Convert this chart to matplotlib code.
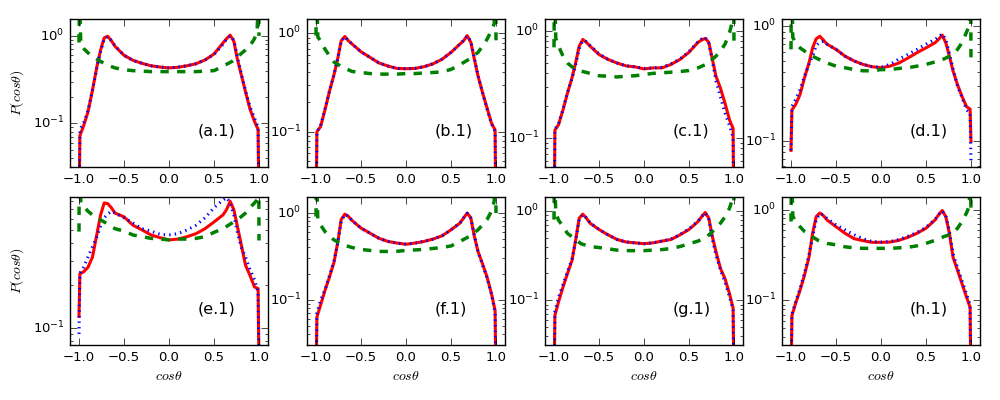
import matplotlib
matplotlib.use("Agg")
import matplotlib.pyplot as plt
from matplotlib.ticker import NullFormatter, FixedLocator

plt.style.use('classic')
plt.rcParams['figure.facecolor'] = 'white'
plt.rcParams['savefig.facecolor'] = 'white'
plt.rcParams['mathtext.fontset'] = 'cm'

# common x grid for the red (solid) and blue (dotted) series
X = [-1.0, -0.99, -0.95, -0.9, -0.85, -0.8, -0.76, -0.72, -0.68, -0.64, -0.6, -0.5, -0.4, -0.3,
     -0.2, -0.1, 0.0, 0.1, 0.2, 0.3, 0.4, 0.5, 0.6, 0.64, 0.68, 0.72, 0.76, 0.8, 0.85, 0.9,
     0.95, 0.99, 1.0]
# x grid for the green (dashed) series
XG = [-1.0, -0.995, -0.98, -0.95, -0.9, -0.85, -0.8, -0.7, -0.6, -0.5, -0.4, -0.3, -0.2, -0.1,
      0.0, 0.1, 0.2, 0.3, 0.4, 0.5, 0.6, 0.7, 0.8, 0.85, 0.9, 0.95, 0.98, 0.995, 1.0]

red_a = [0.01, 0.072, 0.093, 0.135, 0.24, 0.45, 0.69, 0.95, 0.99, 0.88, 0.76, 0.60, 0.525, 0.485, 0.455, 0.44, 0.43, 0.437, 0.455, 0.48, 0.53, 0.62, 0.83, 0.93, 1.02, 0.87, 0.54, 0.37, 0.23, 0.145, 0.105, 0.085, 0.01]
blue_a = [0.01, 0.085, 0.10, 0.14, 0.24, 0.44, 0.66, 0.92, 0.98, 0.88, 0.77, 0.60, 0.525, 0.485, 0.455, 0.44, 0.43, 0.44, 0.455, 0.48, 0.53, 0.61, 0.80, 0.92, 1.0, 0.9, 0.58, 0.38, 0.235, 0.155, 0.115, 0.09, 0.01]
green_a = [0.84, 3.0, 0.80, 0.72, 0.64, 0.58, 0.54, 0.47, 0.43, 0.41, 0.40, 0.395, 0.39, 0.39, 0.39, 0.39, 0.39, 0.39, 0.395, 0.40, 0.45, 0.51, 0.625, 0.69, 0.77, 0.93, 1.2, 3.0, 1.0]

red_b = [0.01, 0.1, 0.112, 0.167, 0.258, 0.38, 0.545, 0.84, 0.93, 0.84, 0.78, 0.65, 0.57, 0.50, 0.465, 0.44, 0.437, 0.44, 0.458, 0.49, 0.545, 0.64, 0.78, 0.84, 0.95, 0.81, 0.545, 0.37, 0.25, 0.175, 0.122, 0.104, 0.01]
blue_b = [0.01, 0.1, 0.115, 0.17, 0.26, 0.38, 0.55, 0.83, 0.92, 0.85, 0.78, 0.65, 0.57, 0.50, 0.465, 0.44, 0.437, 0.44, 0.458, 0.49, 0.545, 0.64, 0.78, 0.85, 0.94, 0.84, 0.56, 0.37, 0.25, 0.17, 0.12, 0.1, 0.01]
green_b = [0.95, 3.0, 0.92, 0.84, 0.69, 0.59, 0.51, 0.45, 0.41, 0.40, 0.39, 0.385, 0.385, 0.385, 0.39, 0.39, 0.395, 0.40, 0.405, 0.43, 0.48, 0.545, 0.64, 0.74, 0.87, 1.07, 1.25, 3.0, 0.85]

red_c = [0.01, 0.118, 0.132, 0.182, 0.262, 0.363, 0.50, 0.72, 0.83, 0.78, 0.72, 0.60, 0.54, 0.50, 0.47, 0.46, 0.44, 0.45, 0.45, 0.485, 0.54, 0.63, 0.78, 0.82, 0.85, 0.78, 0.54, 0.376, 0.29, 0.21, 0.147, 0.122, 0.01]
blue_c = [0.01, 0.12, 0.135, 0.185, 0.265, 0.36, 0.48, 0.68, 0.81, 0.79, 0.73, 0.61, 0.54, 0.50, 0.47, 0.46, 0.445, 0.45, 0.455, 0.49, 0.545, 0.64, 0.79, 0.84, 0.87, 0.76, 0.52, 0.34, 0.24, 0.17, 0.13, 0.10, 0.01]
green_c = [0.70, 3.0, 0.85, 0.72, 0.58, 0.50, 0.46, 0.42, 0.40, 0.38, 0.376, 0.37, 0.376, 0.38, 0.39, 0.40, 0.405, 0.41, 0.416, 0.425, 0.45, 0.49, 0.58, 0.65, 0.75, 0.96, 1.2, 3.0, 0.72]

red_d = [0.083, 0.187, 0.207, 0.254, 0.356, 0.48, 0.65, 0.78, 0.82, 0.76, 0.70, 0.63, 0.55, 0.50, 0.466, 0.445, 0.436, 0.45, 0.48, 0.53, 0.59, 0.65, 0.72, 0.77, 0.84, 0.72, 0.55, 0.41, 0.31, 0.245, 0.20, 0.19, 0.10]
blue_d = [0.083, 0.20, 0.23, 0.28, 0.37, 0.47, 0.55, 0.68, 0.73, 0.74, 0.70, 0.63, 0.55, 0.50, 0.466, 0.445, 0.44, 0.466, 0.52, 0.57, 0.63, 0.70, 0.77, 0.81, 0.86, 0.77, 0.58, 0.43, 0.30, 0.24, 0.187, 0.175, 0.064]
green_d = [0.63, 3.0, 0.80, 0.72, 0.65, 0.61, 0.57, 0.52, 0.48, 0.45, 0.436, 0.42, 0.41, 0.41, 0.42, 0.42, 0.43, 0.436, 0.45, 0.466, 0.49, 0.52, 0.57, 0.63, 0.72, 0.89, 1.01, 3.0, 0.50]

red_e = [0.12, 0.243, 0.25, 0.27, 0.32, 0.47, 0.64, 0.78, 0.77, 0.72, 0.66, 0.62, 0.54, 0.50, 0.46, 0.44, 0.424, 0.43, 0.447, 0.47, 0.51, 0.57, 0.64, 0.70, 0.80, 0.70, 0.53, 0.40, 0.28, 0.236, 0.195, 0.19, 0.05]
blue_e = [0.09, 0.245, 0.27, 0.32, 0.38, 0.45, 0.53, 0.61, 0.65, 0.68, 0.66, 0.61, 0.56, 0.51, 0.49, 0.465, 0.46, 0.47, 0.50, 0.54, 0.61, 0.72, 0.82, 0.85, 0.78, 0.64, 0.48, 0.38, 0.32, 0.26, 0.22, 0.18, 0.05]
green_e = [0.486, 3.0, 0.78, 0.74, 0.68, 0.64, 0.61, 0.56, 0.51, 0.49, 0.46, 0.447, 0.435, 0.43, 0.424, 0.43, 0.43, 0.435, 0.447, 0.48, 0.51, 0.56, 0.62, 0.66, 0.72, 0.78, 0.82, 3.0, 0.42]

red_f = [0.01, 0.063, 0.086, 0.128, 0.183, 0.27, 0.45, 0.84, 0.97, 0.915, 0.82, 0.67, 0.585, 0.51, 0.47, 0.45, 0.436, 0.45, 0.47, 0.50, 0.545, 0.64, 0.765, 0.875, 1.0, 0.875, 0.535, 0.36, 0.26, 0.183, 0.117, 0.075, 0.01]
blue_f = [0.01, 0.07, 0.098, 0.13, 0.19, 0.28, 0.44, 0.80, 0.96, 0.92, 0.82, 0.67, 0.585, 0.51, 0.47, 0.45, 0.436, 0.45, 0.47, 0.50, 0.545, 0.64, 0.77, 0.88, 0.99, 0.88, 0.55, 0.36, 0.25, 0.18, 0.115, 0.07, 0.01]
green_f = [0.91, 3.0, 0.85, 0.73, 0.61, 0.535, 0.49, 0.43, 0.40, 0.38, 0.37, 0.36, 0.36, 0.362, 0.37, 0.375, 0.38, 0.39, 0.40, 0.417, 0.47, 0.535, 0.64, 0.73, 0.84, 1.05, 1.37, 3.0, 1.0]

red_g = [0.01, 0.068, 0.096, 0.141, 0.20, 0.28, 0.47, 0.83, 0.92, 0.83, 0.73, 0.62, 0.54, 0.48, 0.45, 0.44, 0.43, 0.44, 0.46, 0.48, 0.54, 0.62, 0.76, 0.86, 0.96, 0.83, 0.515, 0.35, 0.227, 0.175, 0.119, 0.082, 0.01]
blue_g = [0.01, 0.075, 0.109, 0.15, 0.21, 0.29, 0.46, 0.80, 0.91, 0.84, 0.74, 0.62, 0.54, 0.48, 0.45, 0.44, 0.43, 0.44, 0.46, 0.485, 0.545, 0.63, 0.77, 0.87, 0.95, 0.80, 0.48, 0.32, 0.22, 0.16, 0.11, 0.078, 0.01]
green_g = [0.8, 3.0, 0.95, 0.79, 0.67, 0.56, 0.515, 0.43, 0.40, 0.39, 0.377, 0.365, 0.36, 0.36, 0.36, 0.365, 0.37, 0.38, 0.40, 0.43, 0.46, 0.515, 0.64, 0.73, 0.86, 1.07, 1.33, 3.0, 1.1]

red_h = [0.01, 0.068, 0.092, 0.129, 0.19, 0.30, 0.55, 0.84, 0.92, 0.86, 0.77, 0.65, 0.55, 0.48, 0.456, 0.437, 0.437, 0.44, 0.46, 0.497, 0.55, 0.625, 0.77, 0.88, 0.98, 0.84, 0.55, 0.30, 0.215, 0.153, 0.109, 0.084, 0.01]
blue_h = [0.01, 0.07, 0.095, 0.135, 0.20, 0.32, 0.50, 0.78, 0.90, 0.88, 0.80, 0.68, 0.60, 0.53, 0.48, 0.445, 0.44, 0.445, 0.47, 0.51, 0.56, 0.64, 0.78, 0.88, 0.97, 0.86, 0.58, 0.33, 0.23, 0.165, 0.118, 0.09, 0.01]
green_h = [0.74, 3.0, 0.85, 0.74, 0.65, 0.575, 0.53, 0.46, 0.425, 0.41, 0.39, 0.38, 0.375, 0.375, 0.375, 0.375, 0.38, 0.385, 0.40, 0.425, 0.46, 0.505, 0.55, 0.625, 0.74, 0.92, 1.09, 3.0, 0.85]

panel_labels = ['(a.1)', '(b.1)', '(c.1)', '(d.1)', '(e.1)', '(f.1)', '(g.1)', '(h.1)']
reds = [red_a, red_b, red_c, red_d, red_e, red_f, red_g, red_h]
blues = [blue_a, blue_b, blue_c, blue_d, blue_e, blue_f, blue_g, blue_h]
greens = [green_a, green_b, green_c, green_d, green_e, green_f, green_g, green_h]
ylims = [(0.0316, 1.56), (0.0437, 1.40), (0.0532, 1.29), (0.0594, 1.16),
         (0.075, 0.86), (0.030, 1.53), (0.0318, 1.43), (0.0323, 1.38)]
xticks = [-1.0, -0.5, 0.0, 0.5, 1.0]

fig = plt.figure(figsize=(10, 4), dpi=100)
lefts = [0.070, 0.307, 0.545, 0.782]
bottoms = [0.5825, 0.1375]
W, H = 0.198, 0.37

for i in range(8):
    r, c = divmod(i, 4)
    ax = fig.add_axes([lefts[c], bottoms[r], W, H])
    ax.plot(X, reds[i], color='r', linestyle='-', linewidth=2.2)
    ax.plot(X, blues[i], color='b', linestyle=':', linewidth=2.2)
    ax.plot(XG, greens[i], color='g', linestyle='--', linewidth=2.5)
    ax.set_yscale('log')
    ax.set_xlim(-1.1, 1.1)
    ax.set_ylim(*ylims[i])
    ax.xaxis.set_major_locator(FixedLocator(xticks))
    ax.yaxis.set_minor_formatter(NullFormatter())
    ax.tick_params(axis='both', which='major', labelsize=9.5, length=5, direction='in')
    ax.tick_params(axis='both', which='minor', length=2.5, direction='in')
    ax.text(0.645, 0.24, panel_labels[i], transform=ax.transAxes, fontsize=11.5, va='center', ha='left')
    if c == 0:
        ax.set_ylabel(r'$P(cos\theta)$', fontsize=10)
        ax.yaxis.set_label_coords(-0.222, 0.5)
    if r == 1:
        ax.set_xlabel(r'$cos\theta$', fontsize=10)
        ax.xaxis.set_label_coords(0.5, -0.16)

fig.savefig('out.png', dpi=100)
